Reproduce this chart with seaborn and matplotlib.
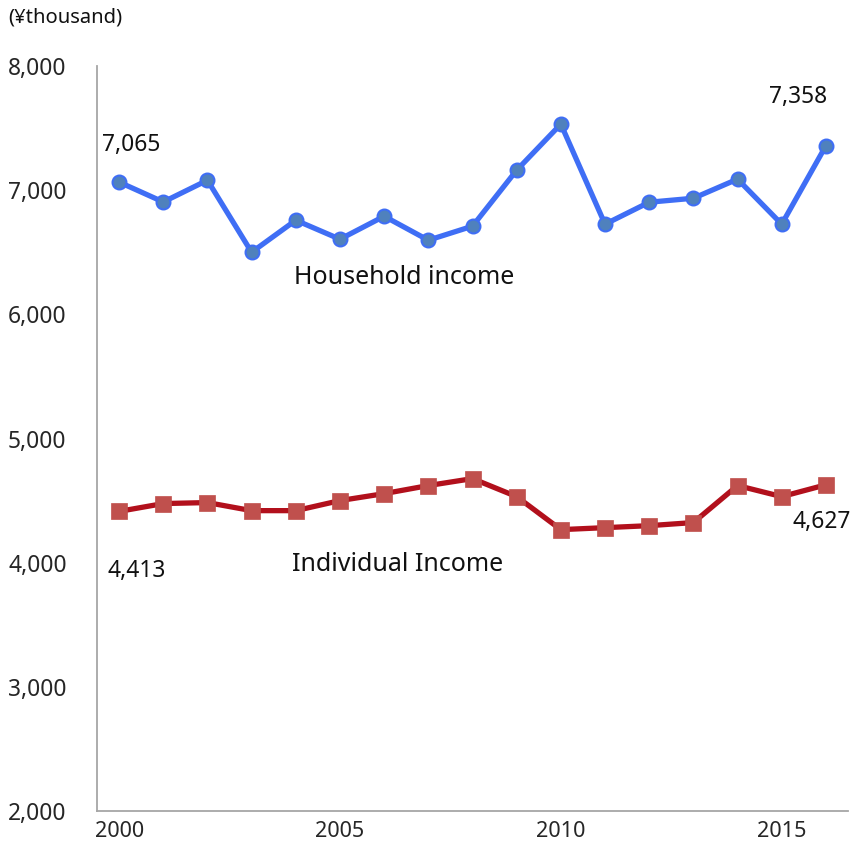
import pandas as pd
import matplotlib.pyplot as plt
import seaborn as sns

YEARS = list(range(2000, 2017))
HOUSEHOLD = [7065, 6905, 7080, 6500, 6758, 6605, 6790, 6597, 6710,
             7161, 7532, 6726, 6903, 6935, 7089, 6726, 7358]
INDIVIDUAL = [4413, 4476, 4484, 4419, 4419, 4500, 4556, 4621, 4677,
              4532, 4266, 4282, 4298, 4323, 4621, 4532, 4627]
Y_TICKS = [2000, 3000, 4000, 5000, 6000, 7000, 8000]
X_TICKS = [2000, 2005, 2010, 2015]

BLUE_LINE = "#3F6EF5"
BLUE_MARK = "#4F81BD"
RED_LINE = "#B2101C"
RED_MARK = "#C0504D"

sns.set_style("white")
plt.rcParams["font.family"] = ["Noto Sans", "DejaVu Sans"]

df = pd.DataFrame({"year": YEARS, "household": HOUSEHOLD, "individual": INDIVIDUAL})

fig = plt.figure(figsize=(8.54, 8.51), dpi=100)
ax = fig.add_axes([97 / 854, 1 - 811 / 851, (848 - 97) / 854, (811 - 66) / 851])

sns.lineplot(data=df, x="year", y="household", ax=ax, color=BLUE_LINE,
             linewidth=3.8, marker="o", markersize=10,
             markerfacecolor=BLUE_MARK, markeredgecolor=BLUE_LINE,
             markeredgewidth=1.5)
sns.lineplot(data=df, x="year", y="individual", ax=ax, color=RED_LINE,
             linewidth=3.8, marker="s", markersize=11,
             markerfacecolor=RED_MARK, markeredgecolor=RED_MARK,
             markeredgewidth=0.5)

ax.set_xlim(1999.5, 2016.5)
ax.set_ylim(2000, 8000)
ax.set_xticks(X_TICKS)
ax.set_yticks(Y_TICKS)
ax.set_yticklabels([f"{v:,}" for v in Y_TICKS], ha="left")
ax.tick_params(axis="y", length=0, pad=64, labelsize=16.4)
ax.tick_params(axis="x", length=0, pad=7, labelsize=15.6)
ax.set_xlabel("")
ax.set_ylabel("")

for side in ["top", "right"]:
    ax.spines[side].set_visible(False)
for side in ["left", "bottom"]:
    ax.spines[side].set_color("#A6A6A6")
    ax.spines[side].set_linewidth(1.3)

lab = dict(fontsize=16.4, ha="center", va="center", textcoords="offset points",
           color="#111111")
ax.annotate(f"{HOUSEHOLD[0]:,}", (YEARS[0], HOUSEHOLD[0]), xytext=(9, 27), **lab)
ax.annotate(f"{HOUSEHOLD[-1]:,}", (YEARS[-1], HOUSEHOLD[-1]), xytext=(-20, 35), **lab)
ax.annotate(f"{INDIVIDUAL[0]:,}", (YEARS[0], INDIVIDUAL[0]), xytext=(13, -43), **lab)
ax.annotate(f"{INDIVIDUAL[-1]:,}", (YEARS[-1], INDIVIDUAL[-1]), xytext=(-3, -27), **lab)

ax.text(2006.45, 6300, "Household income", fontsize=18, ha="center", va="center",
        color="#111111")
ax.text(2006.3, 3985, "Individual Income", fontsize=18, ha="center", va="center",
        color="#111111")

fig.text(8 / 854, 1 - 17 / 851, "(¥thousand)", fontsize=14.5, ha="left", va="center",
         color="#111111")

fig.savefig("out.png", dpi=100)
